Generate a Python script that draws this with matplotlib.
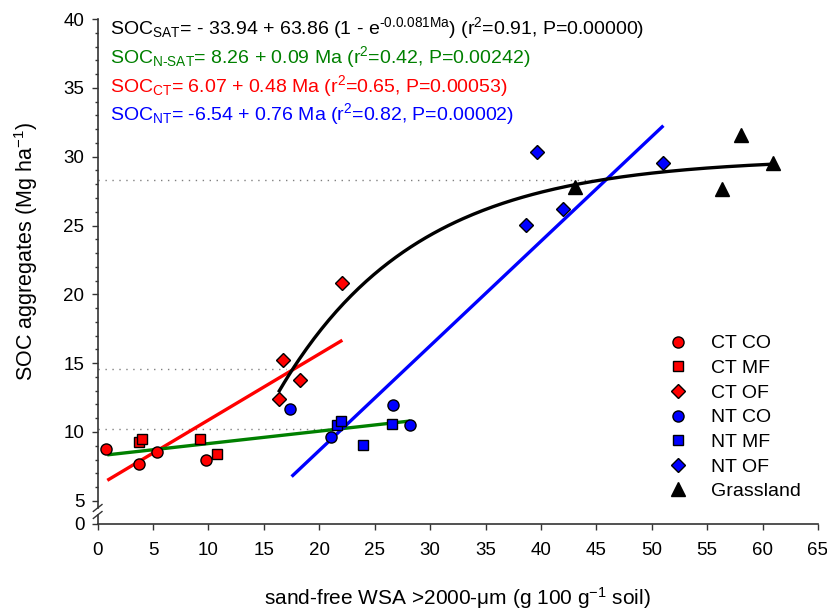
import numpy as np
import matplotlib
matplotlib.use("Agg")
import matplotlib.pyplot as plt

plt.rcParams["font.family"] = ["Liberation Sans", "DejaVu Sans"]
plt.rcParams["mathtext.fontset"] = "custom"
plt.rcParams["mathtext.rm"] = "Liberation Sans"
plt.rcParams["mathtext.it"] = "Liberation Sans:italic"
plt.rcParams["mathtext.bf"] = "Liberation Sans:bold"

# ── data ────────────────────────────────────────────────────────────────────
ct_co_x = [0.75, 3.70, 5.35, 9.75]
ct_co_y = [8.76, 7.66, 8.54, 7.93]
ct_mf_x = [3.73, 3.97, 9.23, 10.74]
ct_mf_y = [9.24, 9.48, 9.46, 8.42]
ct_of_x = [16.75, 16.36, 18.26, 22.05]
ct_of_y = [15.23, 12.37, 13.76, 20.84]
nt_co_x = [17.38, 21.06, 26.68, 28.22]
nt_co_y = [11.64, 9.66, 11.96, 10.53]
nt_mf_x = [21.57, 21.93, 23.97, 26.53]
nt_mf_y = [10.53, 10.77, 9.02, 10.55]
nt_of_x = [39.62, 38.66, 41.97, 51.05]
nt_of_y = [30.37, 25.01, 26.20, 29.57]
grass_x = [43.08, 58.09, 56.32, 60.92]
grass_y = [27.78, 31.60, 27.68, 29.57]

# fitted models: (intercept, slope, x from, x to)
ct_fit = (6.07, 0.48, 0.87, 22.08)
nsat_fit = (8.26, 0.09, 0.87, 28.2)
nt_fit = (-6.54, 0.76, 17.5, 51.05)
# saturation model: a + b * (1 - exp(-k x)), x from, x to
sat_fit = (-33.94, 63.86, 0.081, 16.39, 61.0)

# dotted reference levels
dot_y = [28.3, 14.6, 10.24]
dot_xend = [45.6, 17.0, 21.2]

eq_texts = [
    r"SOC$_{\mathrm{SAT}}$= - 33.94 + 63.86 (1 - e$^{\text{-0.0.081Ma}}$) (r$^{\mathrm{2}}$=0.91, P=0.00000)",
    r"SOC$_{\text{N-SAT}}$= 8.26 + 0.09 Ma (r$^{\mathrm{2}}$=0.42, P=0.00242)",
    r"SOC$_{\mathrm{CT}}$= 6.07 + 0.48 Ma (r$^{\mathrm{2}}$=0.65, P=0.00053)",
    r"SOC$_{\mathrm{NT}}$= -6.54 + 0.76 Ma (r$^{\mathrm{2}}$=0.82, P=0.00002)",
]
eq_colors = ["black", "#008000", "#ff0000", "#0000ff"]

y_bottom = 3.315
yticks = [y_bottom, 5, 10, 15, 20, 25, 30, 35, 40]
ytick_labels = ["0", "5", "10", "15", "20", "25", "30", "35", "40"]
xticks = list(range(0, 70, 5))

FS = 14
AXC = "#333333"

fig = plt.figure(figsize=(8.27, 6.12), dpi=100)
ax = fig.add_axes([0.1181, 0.1438, 0.871, 0.825])

# dotted levels
for yv, xe in zip(dot_y, dot_xend):
    ax.plot([0, xe], [yv, yv], color="#808080", lw=1.0,
            linestyle=(0, (1, 4)), zorder=1)

# fitted lines
for (a, b, x0, x1), c in zip([ct_fit, nsat_fit, nt_fit], ["#ff0000", "#008000", "#0000ff"]):
    xs = np.array([x0, x1])
    ax.plot(xs, a + b * xs, color=c, lw=2.4, zorder=2, solid_capstyle="butt")

a, b, k, x0, x1 = sat_fit
xs = np.linspace(x0, x1, 200)
ax.plot(xs, a + b * (1 - np.exp(-k * xs)), color="black", lw=2.4, zorder=2)

# points
mk = dict(linestyle="none", markeredgecolor="black", markeredgewidth=1.0, zorder=4)
ax.plot(ct_co_x, ct_co_y, "o", color="#ff0000", ms=8, label="CT CO", **mk)
ax.plot(ct_mf_x, ct_mf_y, "s", color="#ff0000", ms=7.5, label="CT MF", **mk)
ax.plot(ct_of_x, ct_of_y, "D", color="#ff0000", ms=7.5, label="CT OF", **mk)
ax.plot(nt_co_x, nt_co_y, "o", color="#0000ff", ms=8, label="NT CO", **mk)
ax.plot(nt_mf_x, nt_mf_y, "s", color="#0000ff", ms=7.5, label="NT MF", **mk)
ax.plot(nt_of_x, nt_of_y, "D", color="#0000ff", ms=7.5, label="NT OF", **mk)
ax.plot(grass_x, grass_y, "^", color="black", ms=9.5, label="Grassland", **mk)

# equations
for i, (t, c) in enumerate(zip(eq_texts, eq_colors)):
    ax.text(1.1, 38.88 - 2.08 * i, t, color=c, fontsize=FS, va="baseline", ha="left")

ax.legend(loc="upper left", bbox_to_anchor=(0.778, 0.39), frameon=False,
          fontsize=FS, handletextpad=1.1, labelspacing=0.36,
          handlelength=1.2, borderaxespad=0)

# axes styling
ax.set_xlim(0, 65)
ax.set_ylim(y_bottom, 40)
ax.set_xticks(xticks)
ax.set_yticks(yticks)
ax.set_yticklabels(ytick_labels)
ax.set_yticks(list(range(5, 41)), minor=True)
ax.tick_params(axis="both", which="major", direction="out", length=4.5, width=1.0,
               labelsize=13.5, color=AXC)
ax.tick_params(axis="x", pad=8.5)
ax.tick_params(axis="y", pad=5)
ax.tick_params(axis="y", which="minor", direction="out", length=2.5, width=1.0, color=AXC)
for side in ("top", "right"):
    ax.spines[side].set_visible(False)
for side in ("left", "bottom"):
    ax.spines[side].set_color(AXC)
    ax.spines[side].set_linewidth(1.2)
ax.spines["left"].set_bounds(4.48, 40)

# axis break
ytr = ax.get_yaxis_transform()
ax.plot([0, 0], [y_bottom, 3.97], color=AXC, lw=1.2, transform=ytr, clip_on=False)
for yc in (3.97, 4.48):
    ax.plot([-0.006, 0.006], [yc - 0.25, yc + 0.25], color=AXC, lw=1.0,
            transform=ytr, clip_on=False)

ax.set_xlabel(r"sand-free WSA >2000-μm (g 100 g$^{\mathrm{-1}}$ soil)", fontsize=15)
ax.set_ylabel(r"SOC aggregates (Mg ha$^{\mathrm{-1}}$)", fontsize=15.5)
ax.xaxis.set_label_coords(0.5, -0.121)
ax.yaxis.set_label_coords(-0.080, 0.54)

fig.savefig("out.png", dpi=100)
